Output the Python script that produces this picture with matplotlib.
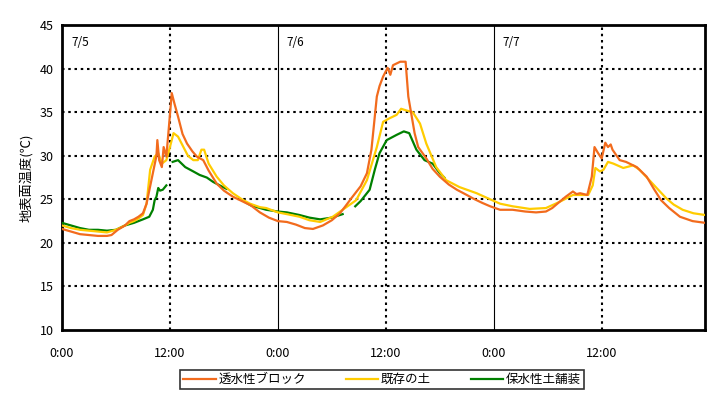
import numpy as np
import matplotlib
matplotlib.use("Agg")
import matplotlib.pyplot as plt

plt.rcParams['font.family'] = ['Noto Sans CJK JP', 'DejaVu Sans']

# hours from 7/5 0:00
block_h = [0, 1, 2, 3, 4, 5, 5.5, 6.2, 7, 7.5, 8, 8.5, 9, 9.4, 9.8, 10.2, 10.5, 10.6, 10.8, 11.1,
           11.3, 11.6, 11.9, 12.2, 12.5, 12.9, 13.4, 13.9, 14.5, 15.0, 15.7, 16.3, 17.2, 18, 19, 20,
           21, 22, 23, 24, 25, 26, 27, 27.9, 29, 30, 30.9, 31.5, 32.3, 33.2, 33.9, 34.4, 35.0, 35.3,
           35.7, 36.2, 36.5, 36.8, 37.6, 38.2, 38.5, 39.2, 39.6, 40.5, 41.2, 42, 43, 43.9, 45, 45.7,
           46.7, 47.6, 48.7, 50.1, 51.5, 52.7, 53.8, 54.5, 55.3, 56, 56.8, 57.2, 57.6, 58.4, 58.9,
           59.2, 59.6, 60.0, 60.4, 60.7, 61.0, 61.2, 62.0, 62.7, 63.3, 63.9, 65.0, 65.8, 66.6, 67.5,
           68.7, 70.1, 71.5]
block_t = [21.6, 21.3, 21.0, 20.9, 20.8, 20.8, 20.9, 21.5, 22.0, 22.5, 22.7, 23.0, 23.4, 24.5, 26.5,
           28.5, 30.0, 31.8, 29.5, 28.7, 31.0, 29.9, 33.5, 37.2, 36.0, 34.5, 32.5, 31.4, 30.5, 29.9,
           29.5, 28.3, 26.8, 26.0, 25.3, 24.8, 24.3, 23.5, 22.9, 22.5, 22.4, 22.1, 21.7, 21.6, 22.0,
           22.6, 23.4, 24.2, 25.3, 26.5, 28.0, 30.7, 36.8, 38.0, 39.1, 40.1, 39.3, 40.4, 40.8, 40.8,
           36.8, 32.6, 31.0, 29.7, 28.5, 27.6, 26.7, 26.1, 25.5, 25.1, 24.6, 24.2, 23.8, 23.8, 23.6,
           23.5, 23.6, 24.0, 24.7, 25.3, 25.9, 25.6, 25.7, 25.5, 27.6, 31.0, 30.3, 29.7, 31.5, 31.0,
           31.3, 30.7, 29.5, 29.3, 29.0, 28.7, 27.6, 26.2, 24.9, 24.0, 23.0, 22.5, 22.3]

soil_h = [0, 1, 2, 3, 4, 5, 6, 7, 7.5, 8, 8.5, 9, 9.4, 9.8, 10.3, 10.7, 11.1, 11.6, 12.0, 12.4, 12.9,
          13.5, 14.0, 14.6, 15.1, 15.5, 15.8, 16.3, 17.2, 18, 19, 20, 20.9, 22, 22.7, 24, 25, 26.4,
          27.5, 28.7, 30.1, 31.2, 32.7, 33.9, 35, 35.7, 36.4, 37.2, 37.7, 38.3, 39, 39.8, 40.5, 41.6,
          42.7, 44.2, 46.1, 47.6, 48.7, 50.1, 52, 53.8, 55.3, 56.8, 58.5, 59, 59.3, 59.8, 60.2, 60.7,
          61.3, 62.4, 63.5, 64.2, 65.3, 66.2, 67.2, 68, 69, 70.2, 71.5]
soil_t = [22.0, 21.7, 21.5, 21.4, 21.3, 21.2, 21.5, 22.0, 22.3, 22.5, 22.8, 23.2, 24.5, 28.4, 29.9,
          30.3, 29.1, 29.5, 31.0, 32.6, 32.2, 31.0, 30.0, 29.5, 29.5, 30.7, 30.7, 29.1, 27.6, 26.6,
          25.7, 25.0, 24.5, 24.1, 24.0, 23.5, 23.3, 23.0, 22.6, 22.4, 23.0, 23.8, 24.9, 27.2, 31.0,
          33.9, 34.3, 34.7, 35.4, 35.2, 35.0, 33.7, 31.4, 28.7, 27.2, 26.4, 25.7, 25.0, 24.5, 24.2,
          23.9, 24.0, 24.7, 25.5, 25.5, 26.6, 28.6, 28.2, 28.4, 29.3, 29.1, 28.6, 28.9, 28.4, 27.2,
          26.2, 25.1, 24.4, 23.8, 23.4, 23.2]

# gaps in the record are NaN
pave_h = [0, 1, 2, 3, 4, 5, 6, 7, 8, 9, 9.7, 10.1, 10.3, 10.5, 10.7, 10.9, 11.2, 11.6, 11.9, 12.3,
          12.9, 13.7, 14.6, 15.3, 16.1, 16.8, 17.9, 18.3, 18.6, 20, 21, 22.7, 24, 25, 26.4, 27.5,
          28.7, 30, 31.2, 31.5, 32.6, 33.2, 34.2, 34.8, 35.3, 36.1, 37.2, 38, 38.6, 39.4, 40.3, 41.2,
          42, 42.5]
pave_t = [22.3, 22.0, 21.7, 21.5, 21.5, 21.4, 21.5, 22.0, 22.3, 22.7, 23.0, 23.8, 24.9, 25.3, 26.3,
          26.0, 26.1, 26.6, np.nan, 29.3, 29.5, 28.7, 28.2, 27.8, 27.5, 27.0, 26.4, 26.2, np.nan,
          24.9, 24.3, 23.8, 23.6, 23.5, 23.2, 22.9, 22.7, 22.9, 23.3, np.nan, 24.2, 24.8, 26.1, 28.5,
          30.3, 31.8, 32.4, 32.8, 32.6, 30.7, 29.5, 29.1, 28.0, 27.5]

series_names = ['透水性ブロック', '既存の土', '保水性土舗装']
series_colors = ['#F26B1D', '#FFCC00', '#008000']
day_labels = ['7/5', '7/6', '7/7']
tick_hours = [0, 12, 24, 36, 48, 60]
tick_labels = ['0:00', '12:00', '0:00', '12:00', '0:00', '12:00']

fig = plt.figure(figsize=(7.21, 3.99), dpi=100)
ax = fig.add_axes([0.086, 0.173, 0.892, 0.764])

# grid
for y in range(15, 45, 5):
    ax.axhline(y, color='black', lw=1.5, ls=(0, (1.2, 1.8)), zorder=1)
for h in tick_hours[1:]:
    if h % 24 == 0:
        ax.axvline(h, color='black', lw=0.8, zorder=1)
    else:
        ax.axvline(h, color='black', lw=1.5, ls=(0, (1.2, 1.8)), zorder=1)

ax.plot(pave_h, pave_t, color=series_colors[2], lw=1.6, label=series_names[2], zorder=3)
ax.plot(soil_h, soil_t, color=series_colors[1], lw=1.6, label=series_names[1], zorder=3)
ax.plot(block_h, block_t, color=series_colors[0], lw=1.6, label=series_names[0], zorder=3)

ax.set_xlim(0, 71.5)
ax.set_ylim(10, 45)
ax.set_yticks(range(10, 46, 5))
ax.set_xticks(tick_hours)
ax.set_xticklabels(tick_labels)
ax.tick_params(length=0, labelsize=9, pad=12)
ax.tick_params(axis='y', pad=6)
for s in ax.spines.values():
    s.set_linewidth(2)

for i, d in enumerate(day_labels):
    ax.text(i * 24 + 1.0, 43.0, d, fontsize=8.5, ha='left', va='center')

ax.set_ylabel('地表面温度(℃)', fontsize=9.5, labelpad=5)

handles, labels = ax.get_legend_handles_labels()
order = [2, 1, 0]
leg = fig.legend([handles[i] for i in order], [labels[i] for i in order],
                 loc='center', bbox_to_anchor=(0.53, 0.049), ncol=3, fontsize=9,
                 frameon=True, fancybox=False, edgecolor='black', handlelength=2.6,
                 columnspacing=3.2, handletextpad=0.2, borderpad=0.25)
leg.get_frame().set_linewidth(1.2)

fig.savefig('out.png', dpi=100)
